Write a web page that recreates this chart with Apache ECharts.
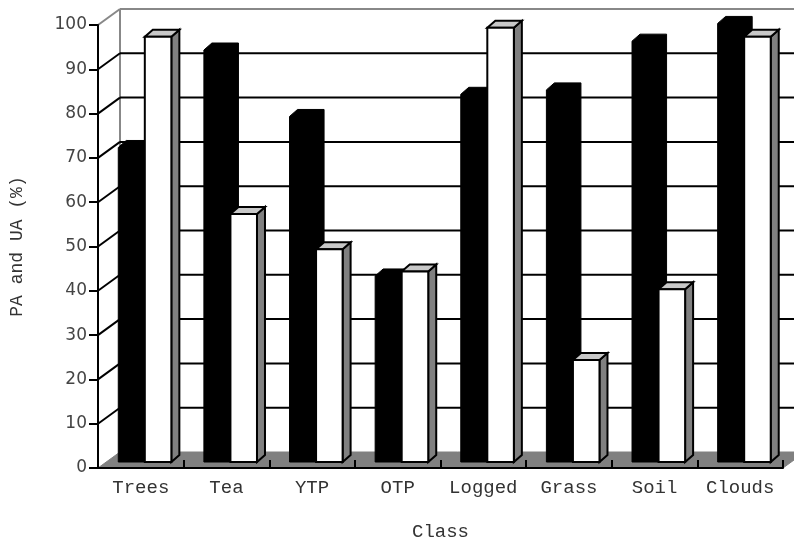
<!DOCTYPE html>
<html>
<head>
<meta charset="utf-8">
<script src="https://cdn.jsdelivr.net/npm/echarts@6/dist/echarts.min.js"></script>
<style>
  html, body { margin: 0; padding: 0; background: #fff; }
  #chart { width: 794px; height: 542px; }
</style>
</head>
<body>
<div id="chart"></div>
<script>
// Producer's (PA) and user's (UA) accuracy per land-cover class
const categories = ['Trees', 'Tea', 'YTP', 'OTP', 'Logged', 'Grass', 'Soil', 'Clouds'];
const paValues = [71, 93, 78, 42, 83, 84, 95, 99];
const uaValues = [96, 56, 48, 43, 98, 23, 39, 96];
const yTicks = [0, 10, 20, 30, 40, 50, 60, 70, 80, 90, 100];

// 3-D projection offsets (pixels)
const WALL_DX = 22, WALL_DY = -16;   // depth of floor / walls
const BAR_DX = 7, BAR_DY = -6;       // where the bars stand on the floor
const DEPTH_X = 8, DEPTH_Y = -7;     // thickness of each bar
const BAR_FRAC = 0.31;               // bar width as share of category band
const GROUP_SHIFT = -3;

const chart = echarts.init(document.getElementById('chart'), null, { renderer: 'canvas' });

function line(x1, y1, x2, y2, color, w) {
  return { type: 'line', shape: { x1, y1, x2, y2 }, style: { stroke: color, lineWidth: w }, silent: true };
}

// floor, back wall and side wall of the box
function renderBox(params, api) {
  const n = categories.length;
  const band = api.size([1, 0])[0];
  const p0 = api.coord([0, 0]);
  const x0 = p0[0] - band / 2;
  const x1 = api.coord([n - 1, 0])[0] + band / 2;
  const y0 = p0[1];
  const children = [];
  children.push({
    type: 'polygon',
    shape: { points: [[x0, y0], [x1, y0], [x1 + WALL_DX, y0 + WALL_DY], [x0 + WALL_DX, y0 + WALL_DY]] },
    style: { fill: '#808080', stroke: '#808080', lineWidth: 1 },
    silent: true
  });
  const yTop = api.coord([0, 100])[1];
  children.push(line(x0 + WALL_DX, y0 + WALL_DY, x0 + WALL_DX, yTop + WALL_DY, '#888', 2));
  yTicks.forEach(v => {
    if (v === 0) return;
    const y = api.coord([0, v])[1];
    const c = v === 100 ? '#888' : '#000';
    children.push(line(x0 + WALL_DX, y + WALL_DY, x1 + WALL_DX + 40, y + WALL_DY, c, 2));
    children.push(line(x0, y, x0 + WALL_DX, y + WALL_DY, c, 2));
  });
  return { type: 'group', children };
}

function makeBarRenderer(side, solid) {
  return function (params, api) {
    const i = api.value(0);
    const v = api.value(1);
    const band = api.size([1, 0])[0];
    const w = band * BAR_FRAC;
    const base = api.coord([i, 0]);
    const top = api.coord([i, v]);
    const cx = base[0] + GROUP_SHIFT + BAR_DX;
    const xl = side < 0 ? cx - w : cx;
    const xr = xl + w;
    const yb = base[1] + BAR_DY;
    const yt = top[1] + BAR_DY;
    if (solid) {
      return {
        type: 'polygon',
        shape: { points: [[xl, yb], [xl, yt], [xl + DEPTH_X, yt + DEPTH_Y], [xr + DEPTH_X, yt + DEPTH_Y], [xr + DEPTH_X, yb + DEPTH_Y], [xr, yb]] },
        style: { fill: '#000', stroke: '#000', lineWidth: 1 }
      };
    }
    return {
      type: 'group',
      children: [
        { type: 'polygon', shape: { points: [[xr, yb], [xr, yt], [xr + DEPTH_X, yt + DEPTH_Y], [xr + DEPTH_X, yb + DEPTH_Y]] },
          style: { fill: '#808080', stroke: '#000', lineWidth: 2 } },
        { type: 'polygon', shape: { points: [[xl, yt], [xl + DEPTH_X, yt + DEPTH_Y], [xr + DEPTH_X, yt + DEPTH_Y], [xr, yt]] },
          style: { fill: '#c8c8c8', stroke: '#000', lineWidth: 2 } },
        { type: 'rect', shape: { x: xl, y: yt, width: w, height: yb - yt },
          style: { fill: '#fff', stroke: '#000', lineWidth: 2 } }
      ]
    };
  };
}

const monoFont = '"Liberation Mono", "Courier New", monospace';

chart.setOption({
  animation: false,
  backgroundColor: '#fff',
  grid: { left: 98, top: 25, width: 685, height: 443, containLabel: false, outerBoundsMode: 'none' },
  xAxis: {
    type: 'category',
    data: categories,
    boundaryGap: true,
    name: 'Class',
    nameLocation: 'middle',
    nameGap: 54,
    nameTextStyle: { fontFamily: monoFont, fontSize: 19, color: '#333' },
    axisLine: { show: true, lineStyle: { color: '#000', width: 2 } },
    axisTick: { show: true, inside: true, length: 8, lineStyle: { color: '#000', width: 2 } },
    axisLabel: { fontFamily: monoFont, fontSize: 19, color: '#333', margin: 10, interval: 0 },
    splitLine: { show: false },
    z: 10
  },
  yAxis: {
    type: 'value',
    min: 0,
    max: 100,
    interval: 10,
    name: 'PA and UA (%)',
    nameLocation: 'middle',
    nameGap: 72,
    nameRotate: 90,
    nameTextStyle: { fontFamily: monoFont, fontSize: 18, color: '#333' },
    axisLine: { show: true, lineStyle: { color: '#000', width: 2 } },
    axisTick: { show: true, length: 9, lineStyle: { color: '#000', width: 2 } },
    axisLabel: { fontFamily: '"DejaVu Sans", sans-serif', fontSize: 17, color: '#444', margin: 11 },
    splitLine: { show: false },
    z: 10
  },
  series: [
    { type: 'custom', renderItem: renderBox, data: [[0, 0]], z: 1, silent: true },
    { type: 'custom', name: 'PA', renderItem: makeBarRenderer(-1, true),
      data: paValues.map((v, i) => [i, v]), z: 3 },
    { type: 'custom', name: 'UA', renderItem: makeBarRenderer(1, false),
      data: uaValues.map((v, i) => [i, v]), z: 4 }
  ]
});
</script>
</body>
</html>
